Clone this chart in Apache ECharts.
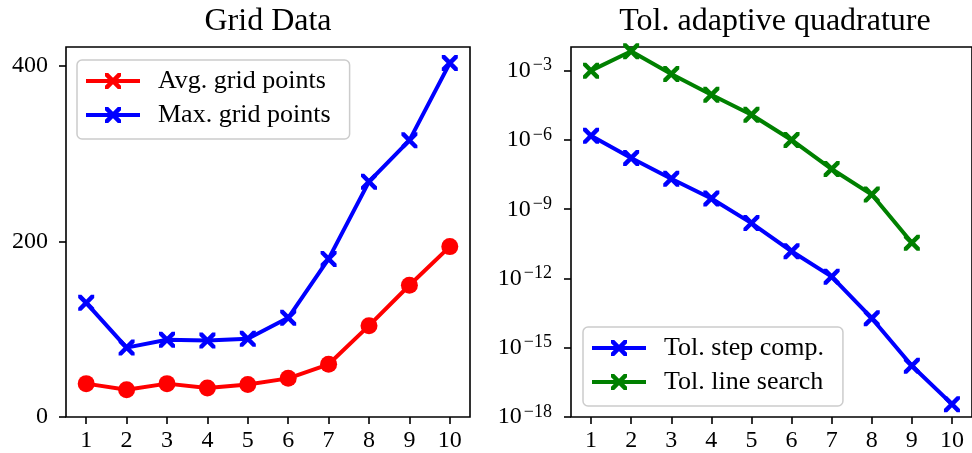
<!DOCTYPE html>
<html><head><meta charset="utf-8">
<script src="https://cdn.jsdelivr.net/npm/echarts@6/dist/echarts.min.js"></script>
<style>html,body{margin:0;padding:0;background:#fff}#c{width:972px;height:453px}</style>
</head><body><div id="c"></div>
<script>
const categories = ['1','2','3','4','5','6','7','8','9','10'];
const avgGridPoints = [38, 31, 38, 33, 37, 44, 60, 104, 150, 194];
const maxGridPoints = [130, 79, 88, 87, 89, 113, 180, 268, 315, 403];
const tolStepComp = [1.5e-6, 1.65e-7, 2.1e-8, 2.9e-9, 2.5e-10, 1.5e-11, 1.2e-12, 1.9e-14, 1.65e-16, 3.6e-18];
const tolLineSearch = [1.0e-3, 6.9e-3, 7.2e-4, 9.1e-5, 1.24e-5, 1.0e-6, 5.5e-8, 4.3e-9, 3.5e-11];
const gridTicks = [0, 200, 400];
const tolTicks = [1e-18, 1e-15, 1e-12, 1e-9, 1e-6, 1e-3];

const FONT = "'Liberation Serif', serif";
const XMARK = 'path://M0 0 L3.2 0 L16 12.8 L16 16 L12.8 16 L0 3.2 Z M12.8 0 L16 0 L16 3.2 L3.2 16 L0 16 L0 12.8 Z';
const LEGEND_X = 'path://M0 6 L54 6 L54 10 L0 10 Z M19 0 L22.2 0 L35 12.8 L35 16 L31.8 16 L19 3.2 Z M31.8 0 L35 0 L35 3.2 L22.2 16 L19 16 L19 12.8 Z';

const chart = echarts.init(document.getElementById('c'), null, {renderer: 'canvas'});

function xAxis(gi) {
  return {
    type: 'category', gridIndex: gi, data: categories, boundaryGap: true,
    axisLine: {show: false},
    axisTick: {show: true, alignWithLabel: true, length: 7, lineStyle: {color: '#000', width: 1.6}},
    axisLabel: {color: '#000', fontFamily: FONT, fontSize: 24, margin: 12},
    splitLine: {show: false}
  };
}
const legendCommon = {
  orient: 'vertical', itemWidth: 54, itemHeight: 16, itemGap: 8,
  padding: [8, 19, 11, 9],
  backgroundColor: 'rgba(255,255,255,0.8)', borderColor: '#cccccc', borderWidth: 1.5, borderRadius: 5,
  itemStyle: {borderWidth: 0},
  textStyle: {color: '#000', fontFamily: FONT, fontSize: 26, lineHeight: 24, padding: [0, 0, 0, 13]}
};
function lineSeries(name, data, color, gi, symbol, size) {
  return {
    type: 'line', name, data, xAxisIndex: gi, yAxisIndex: gi,
    symbol, symbolSize: size, showAllSymbol: true,
    lineStyle: {color, width: 4},
    itemStyle: {color, borderWidth: 0},
    emphasis: {disabled: true}
  };
}

chart.setOption({
  animation: false,
  backgroundColor: '#fff',
  title: [
    {text: 'Grid Data', left: 268, top: 6, textAlign: 'center', padding: 0,
     textStyle: {fontFamily: FONT, fontSize: 32, fontWeight: 'normal', color: '#000'}},
    {text: 'Tol. adaptive quadrature', left: 775, top: 6, textAlign: 'center', padding: 0,
     textStyle: {fontFamily: FONT, fontSize: 32, fontWeight: 'normal', color: '#000'}}
  ],
  grid: [
    {left: 66, width: 404, top: 47, height: 370, show: true, borderColor: '#000', borderWidth: 1.6, backgroundColor: 'transparent'},
    {left: 571, width: 404, top: 47, height: 370, show: true, borderColor: '#000', borderWidth: 1.6, backgroundColor: 'transparent'}
  ],
  xAxis: [xAxis(0), xAxis(1)],
  yAxis: [
    {type: 'value', gridIndex: 0, min: 0, max: 421.3,
     axisLine: {show: false},
     axisTick: {show: true, length: 7, customValues: gridTicks, lineStyle: {color: '#000', width: 1.6}},
     axisLabel: {customValues: gridTicks, color: '#000', fontFamily: FONT, fontSize: 24, margin: 18},
     splitLine: {show: false}},
    {type: 'log', logBase: 10, gridIndex: 1, min: 1e-18, max: 0.0106,
     axisLine: {show: false},
     axisTick: {show: true, length: 7, customValues: tolTicks, lineStyle: {color: '#000', width: 1.6}},
     minorTick: {show: false},
     axisLabel: {customValues: tolTicks, margin: 19,
       formatter: function (v) {
         const e = Math.round(Math.log10(v));
         return '{b|10}{s|' + (e < 0 ? '\u2212' : '') + Math.abs(e) + '}';
       },
       rich: {
         b: {fontFamily: FONT, fontSize: 24, lineHeight: 28, color: '#000'},
         s: {fontFamily: FONT, fontSize: 18, lineHeight: 18, color: '#000', verticalAlign: 'top', padding: [0, 0, 0, 2]}
       }},
     splitLine: {show: false}}
  ],
  legend: [
    Object.assign({}, legendCommon, {left: 77, top: 60,
      data: [{name: 'Avg. grid points', icon: LEGEND_X}, {name: 'Max. grid points', icon: LEGEND_X}]}),
    Object.assign({}, legendCommon, {left: 583, top: 327,
      data: [{name: 'Tol. step comp.', icon: LEGEND_X}, {name: 'Tol. line search', icon: LEGEND_X}]})
  ],
  series: [
    lineSeries('Avg. grid points', avgGridPoints, '#ff0000', 0, 'circle', 17),
    lineSeries('Max. grid points', maxGridPoints, '#0000ff', 0, XMARK, 16),
    lineSeries('Tol. step comp.', tolStepComp, '#0000ff', 1, XMARK, 16),
    lineSeries('Tol. line search', tolLineSearch, '#008000', 1, XMARK, 16)
  ]
});
</script>
</body></html>
